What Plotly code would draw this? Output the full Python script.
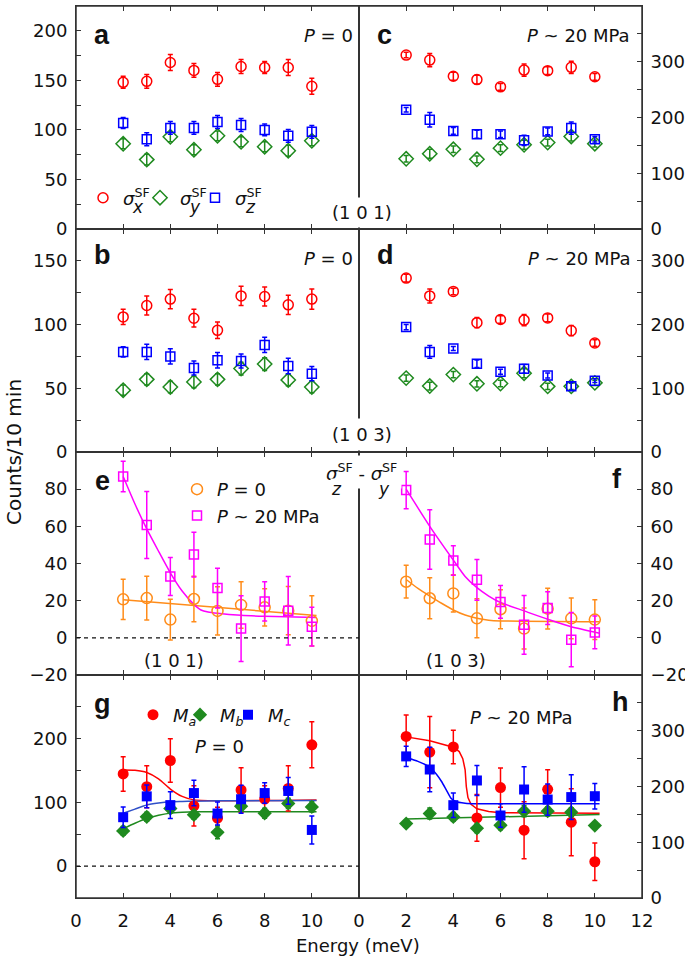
import plotly.graph_objects as go
from plotly.subplots import make_subplots

energy = [2, 3, 4, 5, 6, 7, 8, 9, 10]

# (a) P = 0, (1 0 1)
a_sx = [148, 149, 168, 160, 151, 164, 163, 163, 144]
a_sx_err = [6, 7, 8, 7, 7, 7, 6, 8, 8]
a_sy = [86, 70, 93, 80, 94, 88, 83, 79, 89]
a_sy_err = [5, 5.5, 5, 5, 5, 5, 5, 5.5, 5]
a_sz = [107, 90.5, 102, 102, 108, 105, 100, 94, 98]
a_sz_err = [5.5, 6.5, 6.5, 6.5, 6.5, 6.5, 6, 6.5, 6.5]

# (c) P ~ 20 MPa, (1 0 1)
c_sx = [312, 303, 274, 268, 255, 285, 284, 290, 273]
c_sx_err = [5, 12, 7, 8, 6, 11, 7, 11, 6]
c_sy = [126, 135, 143, 125, 145, 151, 155, 166, 153]
c_sy_err = [6, 8, 6, 6, 6, 8, 6, 8, 6]
c_sz = [214, 196, 176, 170, 170, 159, 175, 181, 161]
c_sz_err = [4, 13, 6, 7, 6, 9, 6, 11, 5]

# (b) P = 0, (1 0 3)
b_sx = [106, 115, 120, 105, 95.5, 122.5, 122, 115.5, 120]
b_sx_err = [6, 7.5, 7.5, 7, 6.5, 7.5, 7.5, 7.5, 8]
b_sy = [48.5, 57, 51, 55, 57, 65.5, 69, 56.5, 51]
b_sy_err = [4, 4.5, 4.5, 4.5, 4.5, 5, 5, 4.5, 4.5]
b_sz = [78.5, 78.5, 75, 66, 72, 71.5, 84, 67.5, 61.5]
b_sz_err = [4, 6, 6, 5.5, 6, 5.5, 6, 6, 5.5]

# (d) P ~ 20 MPa, (1 0 3)
d_sx = [273, 245, 252, 203, 208, 207, 210.5, 190.5, 171]
d_sx_err = [6, 11, 5, 8, 6, 9, 6, 8, 5]
d_sy = [116, 103.5, 121.5, 107, 107.5, 123.5, 103, 103, 108.5]
d_sy_err = [5, 6, 5, 5, 5, 7, 5, 5, 4]
d_sz = [196, 157, 162.5, 138.5, 126, 130.5, 120, 103, 112]
d_sz_err = [4, 10, 3, 6, 4, 7, 4, 6, 3]

# (e) sigma_z - sigma_y, (1 0 1)
e_p0 = [20.7, 21.4, 9.8, 20.9, 14.5, 17.7, 16.4, 14.6, 9.1]
e_p0_err = [10.8, 11.8, 11, 12.3, 13, 12.5, 10, 13, 13.5]
e_p20 = [86.8, 60.7, 33, 44.8, 26.8, 5, 19.6, 14.6, 6]
e_p20_err = [8.2, 18, 10.2, 12, 10.7, 17.7, 10.6, 18.4, 10.4]
e_fit_p0_x = [2, 10.2]
e_fit_p0_y = [20.5, 12]
e_fit_p20_x = [2, 2.5, 3, 3.5, 4, 4.5, 5, 5.3, 5.6, 6, 7, 8, 10.2]
e_fit_p20_y = [86.8, 72, 58.6, 46.6, 35, 25.2, 18, 15, 13.9, 13.2, 12.1, 11.6, 11]

# (f) sigma_z - sigma_y, (1 0 3)
f_p0 = [30.2, 21.3, 23.9, 10.5, 15.4, 5, 15.7, 10.5, 9.8]
f_p0_err = [8.8, 11, 10, 10.5, 10.5, 11, 11, 11, 10.7]
f_p20 = [79.5, 52.9, 41.6, 31.2, 19.3, 7, 16, -1, 2.9]
f_p20_err = [10, 16, 7.9, 11, 8.8, 15.8, 8.8, 14.6, 8.8]
f_fit_p0_x = [2, 2.5, 3, 3.5, 4, 4.5, 5, 5.5, 6, 10.2]
f_fit_p0_y = [31.4, 26.6, 22.5, 18.6, 15, 12.3, 10.5, 9.5, 9.1, 8.6]
f_fit_p20_x = [2, 3, 4, 4.5, 5, 5.5, 6, 7, 8, 9, 10.2]
f_fit_p20_y = [80, 60, 41.8, 33, 27, 22.5, 19, 14.5, 10, 6, 2.5]

# (g) magnetic components, P = 0
g_ma = [144.7, 124.7, 165.8, 94.7, 75.3, 119.5, 105.3, 122, 190.5]
g_ma_err = [27, 33, 34, 31.6, 17, 35, 21, 35.5, 36]
g_mb = [55.3, 77.4, 90.5, 80.5, 53, 94, 83, 98.4, 93]
g_mb_err = [7, 7, 7, 7, 10, 8, 8, 8, 8]
g_mc = [76.8, 109.5, 95.8, 114.7, 82.6, 105, 114.7, 118, 56.8]
g_mc_err = [16, 18, 21, 20, 18, 22, 16, 21, 22]
g_fit_x = [2, 2.5, 3, 3.5, 4, 4.5, 5, 6, 10.2]
g_fit_ma = [151, 150.5, 147, 137, 121, 109.5, 104, 102.6, 104]
g_fit_mb = [59, 67.4, 74.7, 80, 83.2, 84.5, 85.3, 85.3, 85.3]
g_fit_mc = [83, 89.5, 95.8, 99, 101, 101.5, 102, 102.5, 103]

# (h) magnetic components, P ~ 20 MPa
h_ma = [289.8, 261.7, 271, 143.7, 198, 121.6, 195, 136, 65]
h_ma_err = [38.6, 64, 30, 42, 35, 51, 35, 60, 33.5]
h_mb = [133.5, 151.5, 145.5, 125, 130.5, 155.7, 155.7, 154, 130]
h_mb_err = [6, 10, 8, 8, 8, 10, 8, 8, 6]
h_mc = [254, 230.5, 166.5, 210.8, 148, 194.6, 176.6, 181, 182.6]
h_mc_err = [18, 40, 22, 27, 21, 41, 28, 40, 23]
h_fit_ma_x = [2, 3, 4, 4.25, 4.4, 4.5, 4.55, 4.62, 4.75, 5, 5.5, 6, 10.2]
h_fit_ma_y = [289, 282, 270.4, 262.7, 250, 230, 200, 180, 168, 160, 155, 152.8, 152.2]
h_fit_mc_x = [2, 2.5, 3, 3.3, 3.5, 3.7, 3.9, 4.1, 4.5, 5, 10.2]
h_fit_mc_y = [252, 245, 234.6, 221, 209, 194, 179, 173, 170, 169, 169]
h_fit_mb_x = [2, 10.2]
h_fit_mb_y = [141.5, 149.9]

RED, GREEN, BLUE = "#ff0000", "#1f8a1f", "#0000ff"
ORANGE, MAGENTA = "#ff8c1a", "#ff00ff"
AXC = "#333333"
FONT = "DejaVu Sans"

L, R, T, B, W, H = 76, 43, 6, 60, 685, 958
PW, PH = W - L - R, H - T - B


def X(px):
    return (px - L) / PW


def Y(py):
    return (H - B - py) / PH


fig = make_subplots(rows=4, cols=2, horizontal_spacing=0, vertical_spacing=0)

SIG = "<i>σ</i><sup>SF</sup>"


def pts(y, err, color, symbol, size, row, col, name=None, legend=None, lw=1.5):
    fig.add_trace(go.Scatter(
        x=energy, y=y, mode="markers", name=name,
        showlegend=legend is not None, legend=legend or "legend",
        marker=dict(symbol=symbol, size=size, color=color,
                    line=dict(width=lw, color=color)),
        error_y=dict(type="data", array=err, color=color, thickness=1.5, width=2.5),
    ), row=row, col=col)


def fit(x, y, color, row, col, shape="spline"):
    fig.add_trace(go.Scatter(x=x, y=y, mode="lines", showlegend=False,
                             line=dict(color=color, width=1.5, shape=shape, smoothing=0.6)),
                  row=row, col=col)


# row 1
pts(a_sx, a_sx_err, RED, "circle-open", 10, 1, 1, SIG, "legend")
pts(a_sy, a_sy_err, GREEN, "diamond-open", 11, 1, 1, SIG, "legend4")
pts(a_sz, a_sz_err, BLUE, "square-open", 9, 1, 1, SIG, "legend5")
pts(c_sx, c_sx_err, RED, "circle-open", 10, 1, 2)
pts(c_sy, c_sy_err, GREEN, "diamond-open", 11, 1, 2)
pts(c_sz, c_sz_err, BLUE, "square-open", 9, 1, 2)
# row 2
pts(b_sx, b_sx_err, RED, "circle-open", 10, 2, 1)
pts(b_sy, b_sy_err, GREEN, "diamond-open", 11, 2, 1)
pts(b_sz, b_sz_err, BLUE, "square-open", 9, 2, 1)
pts(d_sx, d_sx_err, RED, "circle-open", 10, 2, 2)
pts(d_sy, d_sy_err, GREEN, "diamond-open", 11, 2, 2)
pts(d_sz, d_sz_err, BLUE, "square-open", 9, 2, 2)
# row 3
fit(e_fit_p0_x, e_fit_p0_y, ORANGE, 3, 1, "linear")
fit(e_fit_p20_x, e_fit_p20_y, MAGENTA, 3, 1)
pts(e_p0, e_p0_err, ORANGE, "circle-open", 11, 3, 1, "<i>P</i> = 0", "legend2")
pts(e_p20, e_p20_err, MAGENTA, "square-open", 9, 3, 1, "<i>P</i> ~ 20 MPa", "legend2")
fit(f_fit_p0_x, f_fit_p0_y, ORANGE, 3, 2)
fit(f_fit_p20_x, f_fit_p20_y, MAGENTA, 3, 2)
pts(f_p0, f_p0_err, ORANGE, "circle-open", 11, 3, 2)
pts(f_p20, f_p20_err, MAGENTA, "square-open", 9, 3, 2)
# row 4
fit(g_fit_x, g_fit_ma, RED, 4, 1)
fit(g_fit_x, g_fit_mb, GREEN, 4, 1)
fit(g_fit_x, g_fit_mc, "#3050c8", 4, 1)
pts(g_ma, g_ma_err, RED, "circle", 11, 4, 1, "<i>M</i><sub><i>a</i></sub>", "legend3", 0)
pts(g_mb, g_mb_err, GREEN, "diamond", 11, 4, 1, "<i>M</i><sub><i>b</i></sub>", "legend6", 0)
pts(g_mc, g_mc_err, BLUE, "square", 10, 4, 1, "<i>M</i><sub><i>c</i></sub>", "legend7", 0)
fit(h_fit_ma_x, h_fit_ma_y, RED, 4, 2, "linear")
fit(h_fit_mb_x, h_fit_mb_y, GREEN, 4, 2, "linear")
fit(h_fit_mc_x, h_fit_mc_y, BLUE, 4, 2)
pts(h_ma, h_ma_err, RED, "circle", 11, 4, 2, lw=0)
pts(h_mb, h_mb_err, GREEN, "diamond", 11, 4, 2, lw=0)
pts(h_mc, h_mc_err, BLUE, "square", 10, 4, 2, lw=0)

# dashed zero lines
ZERO = 0
fig.add_hline(y=ZERO, line=dict(color="#111", width=1.2, dash="4px,4px"), row=3, col=1)
fig.add_hline(y=ZERO, line=dict(color="#111", width=1.2, dash="4px,4px"), row=4, col=1)

# axes: (range, labelled ticks, unlabelled minor ticks)
yaxes = {
    (1, 1): ([0, 225], [0, 50, 100, 150, 200], [25, 75, 125, 175, 225]),
    (1, 2): ([0, 400], [0, 100, 200, 300, 400], [50, 150, 250, 350]),
    (2, 1): ([0, 175], [0, 50, 100, 150], [25, 75, 125, 175]),
    (2, 2): ([0, 350], [0, 100, 200, 300], [50, 150, 250, 350]),
    (3, 1): ([-20, 100], [-20, 0, 20, 40, 60, 80], [100]),
    (3, 2): ([-20, 100], [-20, 0, 20, 40, 60, 80], [100]),
    (4, 1): ([-50, 300], [0, 100, 200], [-50, 50, 150, 250]),
    (4, 2): ([0, 400], [0, 100, 200, 300], [50, 150, 250, 350]),
}
tickstyle = dict(ticks="inside", ticklen=5, tickwidth=1.2, tickcolor=AXC)
for (r, c), (rng, tv, mv) in yaxes.items():
    fig.update_yaxes(range=rng, tickmode="array", tickvals=tv,
                     minor=dict(tickmode="array", tickvals=mv, **tickstyle),
                     side="left" if c == 1 else "right",
                     showline=True, mirror=True, linecolor=AXC, linewidth=1,
                     showgrid=False, zeroline=False, ticklabelstandoff=4,
                     automargin=False, **tickstyle,
                     tickfont=dict(family=FONT, size=18, color="#111"),
                     row=r, col=c)
for r in range(1, 5):
    for c in (1, 2):
        tv = [0, 2, 4, 6, 8, 10] if c == 1 else [0, 2, 4, 6, 8, 10, 12]
        fig.update_xaxes(range=[0, 12], tickmode="array", tickvals=tv,
                         showticklabels=(r == 4),
                         showline=True, mirror="ticks", linecolor=AXC, linewidth=1,
                         showgrid=False, zeroline=False, ticklabelstandoff=6,
                         automargin=False, **tickstyle,
                         tickfont=dict(family=FONT, size=18, color="#111"),
                         row=r, col=c)

# outer frame of the whole panel block
fig.add_shape(type="rect", xref="paper", yref="paper", x0=0, x1=1, y0=0, y1=1,
              line=dict(color=AXC, width=1.5), layer="above")

anns = []


def ann(text, x, y, size=18, bold=False, bg=None, pad=1, family=FONT, xa="center", ya="middle", angle=0):
    if bold:
        text = "<b>" + text + "</b>"
    d = dict(text=text, x=X(x), y=Y(y), xref="paper", yref="paper", showarrow=False,
             xanchor=xa, yanchor=ya, font=dict(family=family, size=size, color="#111"),
             borderpad=pad, textangle=angle)
    if bg:
        d["bgcolor"] = bg
    anns.append(d)


# panel letters
for t, x, y in [("a", 102, 35), ("b", 102, 255), ("c", 384, 35), ("d", 385, 255),
                ("e", 102, 481), ("f", 617, 479), ("g", 102, 704), ("h", 620, 702)]:
    ann(t, x, y, size=27, bold=True, family="Liberation Sans")

ann("<i>P</i> = 0", 328, 35)
ann("<i>P</i> = 0", 328, 258)
ann("<i>P</i> ~ 20 MPa", 578, 35)
ann("<i>P</i> ~ 20 MPa", 579, 258)
ann("<i>P</i> ~ 20 MPa", 521, 717)
ann("<i>P</i> = 0", 219, 746)
ann("(1 0 1)", 362, 213, bg="white", pad=4)
ann("(1 0 3)", 362, 434, bg="white", pad=5)
ann("(1 0 1)", 174, 660)
ann("(1 0 3)", 456, 660)
# header of e/f
ann("<i>σ</i><sup>SF</sup> - <i>σ</i><sup>SF</sup>", 361, 472, bg="white", pad=4)
ann("<i>z</i>", 336, 489, size=17, bg="white", pad=0)
ann("<i>y</i>", 384, 489, size=17, bg="white", pad=0)
# legend subscripts for panel a
ann("<i>x</i>", 138, 207, size=17)
ann("<i>y</i>", 195, 207, size=17)
ann("<i>z</i>", 250, 207, size=17)

# axis titles
ann("Energy (meV)", 358, 945, size=18)
ann("Counts/10 min", 14, 452, size=20, angle=-90)


def leg(xm, ym, orient="h"):
    # legend box placed so that the first symbol sits at (xm, ym) in pixels
    return dict(orientation=orient, x=X(xm - 20), y=Y(ym), xanchor="left",
                yanchor="middle" if orient == "h" else "top",
                bgcolor="rgba(0,0,0,0)", font=dict(family=FONT, size=18),
                tracegroupgap=0, itemsizing="trace")


fig.update_layout(
    width=W, height=H, margin=dict(l=L, r=R, t=T, b=B),
    paper_bgcolor="white", plot_bgcolor="white",
    font=dict(family=FONT, size=18, color="#111"),
    annotations=anns,
    legend=leg(103, 198), legend4=leg(160, 198), legend5=leg(215, 198),
    legend2=leg(197, 471, "v"),
    legend3=leg(153, 715), legend6=leg(200, 715), legend7=leg(248, 715),
)

fig.write_html("out.html", config={"displayModeBar": False},
               post_script="document.body.style.margin='0px';"
                           "document.body.style.overflow='hidden';")
